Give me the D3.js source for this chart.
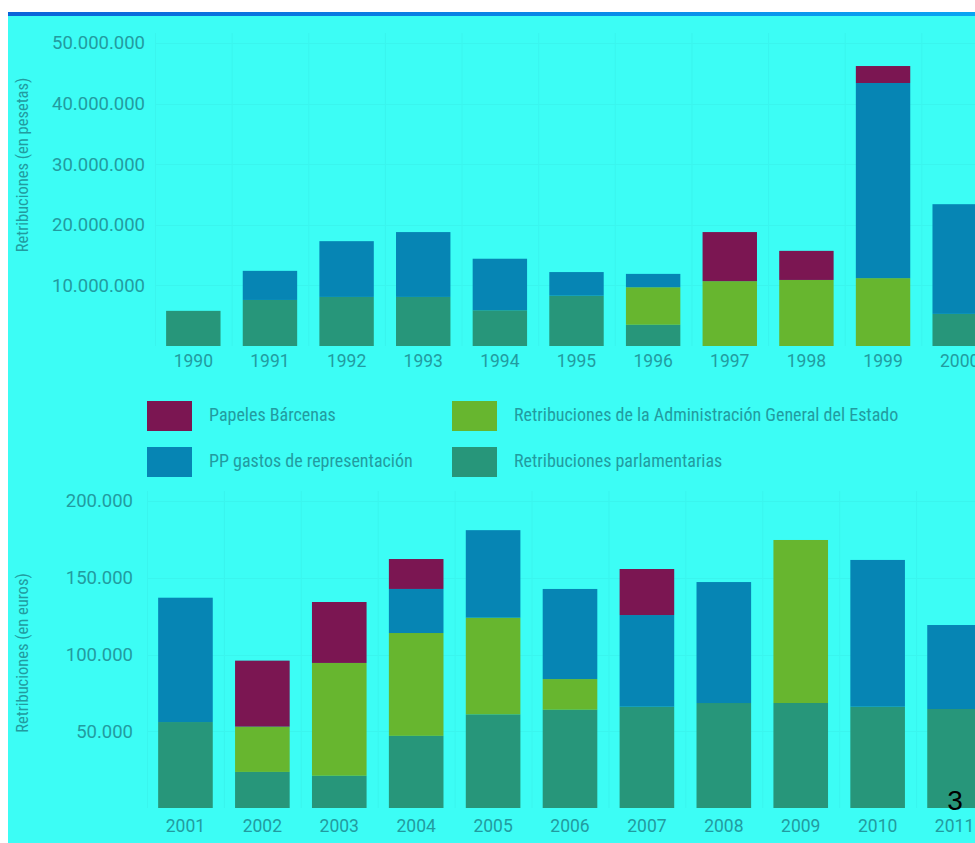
<!DOCTYPE html>
<html>
<head>
<meta charset="utf-8">
<script src="https://cdn.jsdelivr.net/npm/d3@7"></script>
<style>
  html, body { margin: 0; padding: 0; background: #ffffff; }
  svg { display: block; }
  text { font-family: Roboto, "Liberation Sans", Arial, sans-serif; }
</style>
</head>
<body>
<svg id="chart" width="975" height="843"></svg>
<script>
// ---------------- DATA ----------------
const yearsTop = ["1990","1991","1992","1993","1994","1995","1996","1997","1998","1999","2000"];
// pesetas
const parlTop  = [5800000, 7600000, 8100000, 8100000, 5900000, 8300000, 3500000, 0, 0, 0, 5300000];
const adminTop = [0, 0, 0, 0, 0, 0, 6200000, 10700000, 10900000, 11200000, 0];
const ppTop    = [0, 4800000, 9200000, 10700000, 8500000, 3900000, 2200000, 0, 0, 32200000, 18100000];
const barcTop  = [0, 0, 0, 0, 0, 0, 0, 8100000, 4800000, 2800000, 0];
const ticksTop = [10000000, 20000000, 30000000, 40000000, 50000000];

const yearsBot = ["2001","2002","2003","2004","2005","2006","2007","2008","2009","2010","2011"];
// euros
const parlBot  = [56000, 23500, 21000, 47000, 61000, 64000, 66000, 68400, 68400, 66000, 64500];
const adminBot = [0, 29500, 73500, 67000, 63000, 20000, 0, 0, 106200, 0, 0];
const ppBot    = [81000, 0, 0, 28700, 57000, 58700, 59700, 78800, 0, 95600, 54700];
const barcBot  = [0, 43000, 39700, 19500, 0, 0, 30000, 0, 0, 0, 0];
const ticksBot = [50000, 100000, 150000, 200000];

const seriesKeys   = ["parl", "admin", "pp", "barc"];
const seriesNames  = {
  barc: "Papeles Bárcenas",
  pp: "PP gastos de representación",
  admin: "Retribuciones de la Administración General del Estado",
  parl: "Retribuciones parlamentarias"
};
const legendOrder = ["barc", "pp", "admin", "parl"];
const colors = { barc: "#7b1652", pp: "#0685b4", admin: "#67b62f", parl: "#27967a" };

const yTitleTop = "Retribuciones (en pesetas)";
const yTitleBot = "Retribuciones (en euros)";
const pageNumber = "3";

// ---------------- STYLE ----------------
const BG = "#3cfdf5";
const TXT = "#229ba0";
const GRID = "#3af5ee";
const NARROW = "'Liberation Sans Narrow', 'Arial Narrow', 'Roboto Condensed', 'Liberation Sans', sans-serif";

const svg = d3.select("#chart");
const W = 975, H = 843;
const loc = d3.formatLocale({ decimal: ",", thousands: ".", grouping: [3], currency: ["", "€"] });
const fmt = loc.format(",d");

// background
svg.append("rect").attr("x", 0).attr("y", 0).attr("width", W).attr("height", H).attr("fill", "#ffffff");
const grad = svg.append("defs").append("linearGradient").attr("id", "topbar")
  .attr("x1", "0").attr("x2", "1").attr("y1", "0").attr("y2", "0");
grad.append("stop").attr("offset", "0").attr("stop-color", "#0a64d8");
grad.append("stop").attr("offset", "1").attr("stop-color", "#08a4f2");
svg.append("rect").attr("x", 8).attr("y", 16).attr("width", W - 8).attr("height", H - 16).attr("fill", BG);
svg.append("rect").attr("x", 8).attr("y", 12).attr("width", W - 8).attr("height", 4).attr("fill", "url(#topbar)");

function drawChart(cfg) {
  const rows = cfg.years.map((yr, i) => ({
    year: yr, parl: cfg.parl[i], admin: cfg.admin[i], pp: cfg.pp[i], barc: cfg.barc[i]
  }));
  const x = d3.scaleBand().domain(cfg.years).range(cfg.xRange)
    .paddingInner(0.29).paddingOuter(0.145);
  const y = d3.scaleLinear().domain(cfg.yDomain).range(cfg.yRange);
  const g = svg.append("g");

  // faint grid
  const step = x.step();
  const x0 = cfg.xRange[0];
  g.append("g").selectAll("line").data(cfg.years).join("line")
    .attr("x1", d => x(d) - x.paddingInner() * step / 2 + 0.5)
    .attr("x2", d => x(d) - x.paddingInner() * step / 2 + 0.5)
    .attr("y1", cfg.yRange[1] - 10).attr("y2", cfg.yRange[0])
    .attr("stroke", GRID).attr("stroke-width", 1);
  g.append("g").selectAll("line").data(cfg.ticks).join("line")
    .attr("x1", x0).attr("x2", W)
    .attr("y1", d => Math.round(y(d)) + 0.5).attr("y2", d => Math.round(y(d)) + 0.5)
    .attr("stroke", GRID).attr("stroke-width", 1);

  // stacked bars
  const stack = d3.stack().keys(seriesKeys)(rows);
  g.append("g").selectAll("g").data(stack).join("g")
    .attr("fill", s => colors[s.key])
    .selectAll("rect").data(s => s.filter(d => d[1] - d[0] > 0)).join("rect")
    .attr("x", d => x(d.data.year))
    .attr("width", x.bandwidth())
    .attr("y", d => y(d[1]))
    .attr("height", d => y(d[0]) - y(d[1]));

  // y axis
  const ya = g.append("g").attr("transform", `translate(${cfg.yLabelX},0)`)
    .call(d3.axisLeft(y).tickValues(cfg.ticks).tickFormat(fmt).tickSize(0).tickPadding(0));
  ya.select(".domain").remove();
  ya.selectAll("text").attr("fill", TXT).attr("font-size", 18.5).attr("font-weight", 400)
    .style("font-family", "Roboto, 'Liberation Sans', Arial, sans-serif");

  // x axis
  const xa = g.append("g").attr("transform", `translate(0,${cfg.yRange[0]})`)
    .call(d3.axisBottom(x).tickSize(0).tickPadding(cfg.xPad));
  xa.select(".domain").remove();
  xa.selectAll("text").attr("fill", TXT).attr("font-size", 17.5).attr("font-weight", 400)
    .style("font-family", "Roboto, 'Liberation Sans', Arial, sans-serif");

  // y title
  g.append("text")
    .attr("transform", `translate(${cfg.titleX},${cfg.titleY}) rotate(-90)`)
    .attr("text-anchor", "middle")
    .attr("fill", TXT).attr("font-size", 16.5)
    .style("font-family", NARROW)
    .text(cfg.title);
}

drawChart({
  years: yearsTop, parl: parlTop, admin: adminTop, pp: ppTop, barc: barcTop,
  xRange: [155, 998], yDomain: [0, 50000000], yRange: [346, 43],
  ticks: ticksTop, yLabelX: 145, xPad: 9, title: yTitleTop, titleX: 28, titleY: 165
});
drawChart({
  years: yearsBot, parl: parlBot, admin: adminBot, pp: ppBot, barc: barcBot,
  xRange: [147, 993], yDomain: [0, 200000], yRange: [808, 501],
  ticks: ticksBot, yLabelX: 133, xPad: 12, title: yTitleBot, titleX: 28, titleY: 653
});

// legend
const legPos = {
  barc: [147, 401], pp: [147, 447], admin: [452, 401], parl: [452, 447]
};
const leg = svg.append("g");
legendOrder.forEach(k => {
  const [lx, ly] = legPos[k];
  leg.append("rect").attr("x", lx).attr("y", ly).attr("width", 45).attr("height", 30).attr("fill", colors[k]);
  leg.append("text").attr("x", lx + 62).attr("y", ly + 14).attr("dy", "0.35em")
    .attr("fill", TXT).attr("font-size", 18)
    .style("font-family", NARROW)
    .text(seriesNames[k]);
});

// page number
svg.append("text").attr("x", 955).attr("y", 810).attr("text-anchor", "middle")
  .attr("fill", "#000000").attr("font-size", 28)
  .style("font-family", "'Liberation Sans', Arial, sans-serif")
  .text(pageNumber);
</script>
</body>
</html>
